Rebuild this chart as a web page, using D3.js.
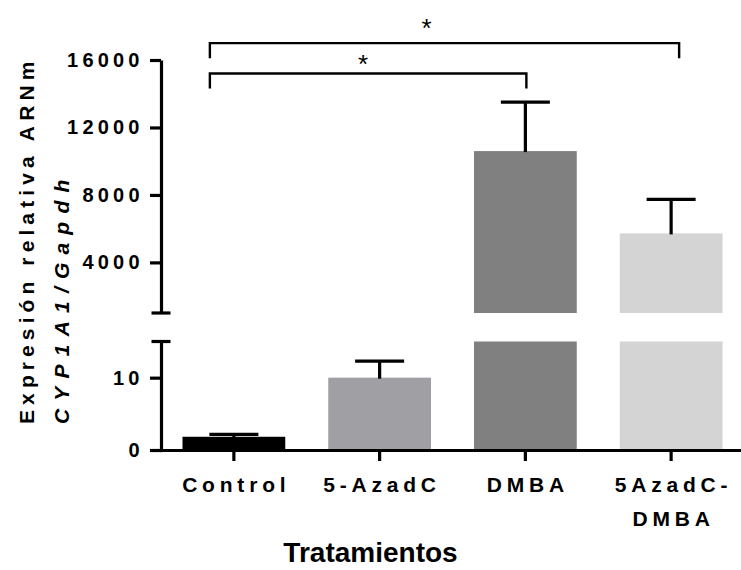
<!DOCTYPE html>
<html>
<head>
<meta charset="utf-8">
<script src="https://cdn.jsdelivr.net/npm/d3@7"></script>
<style>
  body { margin: 0; background: #fff; }
  text { font-family: "Liberation Sans", Arial, sans-serif; }
</style>
</head>
<body>
<svg id="chart" width="741" height="570"></svg>
<script>
// Relative CYP1A1/Gapdh mRNA expression per treatment (mean and SEM)
const categories = ["Control", "5-AzadC", "DMBA", "5AzadC-DMBA"];
const categoryLines = [["Control"], ["5-AzadC"], ["DMBA"], ["5AzadC-", "DMBA"]];
const means = [1.83, 10.0, 10600, 5720];
const sems = [0.32, 2.3, 2900, 2020];
const barColors = ["#000000", "#a09fa4", "#808080", "#d4d4d4"];

// Broken y axis: a low segment and a high segment
const lowDomain = [0, 15];
const highDomain = [1000, 16000];
const lowTicks = [0, 10];
const highTicks = [4000, 8000, 12000, 16000];

// Significance brackets (values on the high segment)
const comparisons = [
  { from: "Control", to: "DMBA", level: 15200, label: "*" },
  { from: "Control", to: "5AzadC-DMBA", level: 17000, label: "*" }
];

const svg = d3.select("#chart");
const axisX = 161, baseY = 450;

const x = d3.scaleBand()
  .domain(categories)
  .range([axisX, 744])
  .paddingInner(0.295)
  .paddingOuter(0.1475);

const yLow = d3.scaleLinear().domain(lowDomain).range([baseY, 341.5]);
const yHigh = d3.scaleLinear().domain(highDomain).range([313, 60]);
const yOf = v => v > lowDomain[1] ? yHigh(v) : yLow(v);

const bw = x.bandwidth();
const cx = c => x(c) + bw / 2;

// Bars: the part in the low segment, plus the part in the high segment
const rows = categories.map((c, i) => ({ c, m: means[i], s: sems[i], col: barColors[i] }));

svg.append("g").selectAll("rect").data(rows).join("rect")
  .attr("x", d => x(d.c))
  .attr("width", bw)
  .attr("y", d => yLow(Math.min(d.m, lowDomain[1])))
  .attr("height", d => yLow(0) - yLow(Math.min(d.m, lowDomain[1])))
  .attr("fill", d => d.col);

svg.append("g").selectAll("rect").data(rows.filter(d => d.m > lowDomain[1])).join("rect")
  .attr("x", d => x(d.c))
  .attr("width", bw)
  .attr("y", d => yHigh(d.m))
  .attr("height", d => yHigh(highDomain[0]) - yHigh(d.m))
  .attr("fill", d => d.col);

// Error bars (mean + SEM)
const capW = 49;
const eb = svg.append("g").attr("stroke", "#000").attr("stroke-width", 3.2);
rows.forEach(d => {
  eb.append("line")
    .attr("x1", cx(d.c)).attr("x2", cx(d.c))
    .attr("y1", yOf(d.m) + 1).attr("y2", yOf(d.m + d.s));
  eb.append("line")
    .attr("x1", cx(d.c) - capW / 2).attr("x2", cx(d.c) + capW / 2)
    .attr("y1", yOf(d.m + d.s)).attr("y2", yOf(d.m + d.s));
});

// Axes
const tickLs = 4.2;
const tickFont = g => g.selectAll("text")
  .attr("font-size", 20).attr("font-weight", "bold")
  .attr("letter-spacing", tickLs + "px").attr("fill", "#000");
const axisStyle = g => {
  g.selectAll("path, line").attr("stroke", "#000").attr("stroke-width", 3.2);
  g.select(".domain").attr("stroke-linecap", "square");
};

svg.append("g").attr("transform", `translate(${axisX},0)`)
  .call(d3.axisLeft(yHigh).tickValues(highTicks).tickSize(11).tickSizeOuter(0)
    .tickPadding(6.3).tickFormat(d3.format("d")))
  .call(axisStyle).call(tickFont)
  .call(g => g.select(".domain").attr("stroke-linecap", "butt"));

svg.append("g").attr("transform", `translate(${axisX},0)`)
  .call(d3.axisLeft(yLow).tickValues(lowTicks).tickSize(11).tickSizeOuter(0)
    .tickPadding(6.3).tickFormat(d3.format("d")))
  .call(axisStyle).call(tickFont);

svg.append("g").attr("transform", `translate(0,${baseY})`)
  .call(d3.axisBottom(x).tickSize(11).tickSizeOuter(0).tickFormat(""))
  .call(axisStyle);

// Axis-break caps
svg.append("g").attr("stroke", "#000").attr("stroke-width", 3.2)
  .selectAll("line").data([yHigh(highDomain[0]), yLow(lowDomain[1])]).join("line")
  .attr("x1", axisX - 9.5).attr("x2", axisX + 9.5)
  .attr("y1", d => d).attr("y2", d => d);

// Category labels
const catLs = 4.8;
svg.append("g").selectAll("g").data(categories).join("g")
  .each(function (c, i) {
    d3.select(this).selectAll("text").data(categoryLines[i]).join("text")
      .attr("x", cx(c) + catLs / 2)
      .attr("y", (t, j) => 492 + j * 33.5)
      .attr("text-anchor", "middle")
      .attr("font-size", 21).attr("font-weight", "bold")
      .attr("letter-spacing", catLs + "px")
      .text(t => t);
  });

// Axis titles
svg.append("text")
  .attr("x", 370.5).attr("y", 562)
  .attr("text-anchor", "middle")
  .attr("font-size", 28).attr("font-weight", "bold")
  .text("Tratamientos");

svg.append("text")
  .attr("transform", "translate(34,424) rotate(-90)")
  .attr("font-size", 21).attr("font-weight", "bold")
  .attr("letter-spacing", "5.1px")
  .text("Expresión relativa ARNm");

svg.append("text")
  .attr("transform", "translate(69,424) rotate(-90)")
  .attr("font-size", 21).attr("font-weight", "bold").attr("font-style", "italic")
  .attr("letter-spacing", "8.2px")
  .text("CYP1A1/Gapdh");

// Significance brackets
const drop = 15;
const ends = [[-24, 1], [-24, 8]];
const starShift = [-5, -18];
const starLift = [15.5, 21.5];
const br = svg.append("g");
comparisons.forEach((k, i) => {
  const x1 = cx(k.from) + ends[i][0];
  const x2 = cx(k.to) + ends[i][1];
  const yy = yHigh(k.level);
  br.append("path")
    .attr("d", `M${x1},${yy + drop}V${yy}H${x2}V${yy + drop}`)
    .attr("fill", "none").attr("stroke", "#000").attr("stroke-width", 2.4);
  br.append("text")
    .attr("x", (x1 + x2) / 2 + starShift[i])
    .attr("y", yy - starLift[i] + 0.575 * 26)
    .attr("text-anchor", "middle")
    .attr("font-size", 26)
    .text(k.label);
});
</script>
</body>
</html>
